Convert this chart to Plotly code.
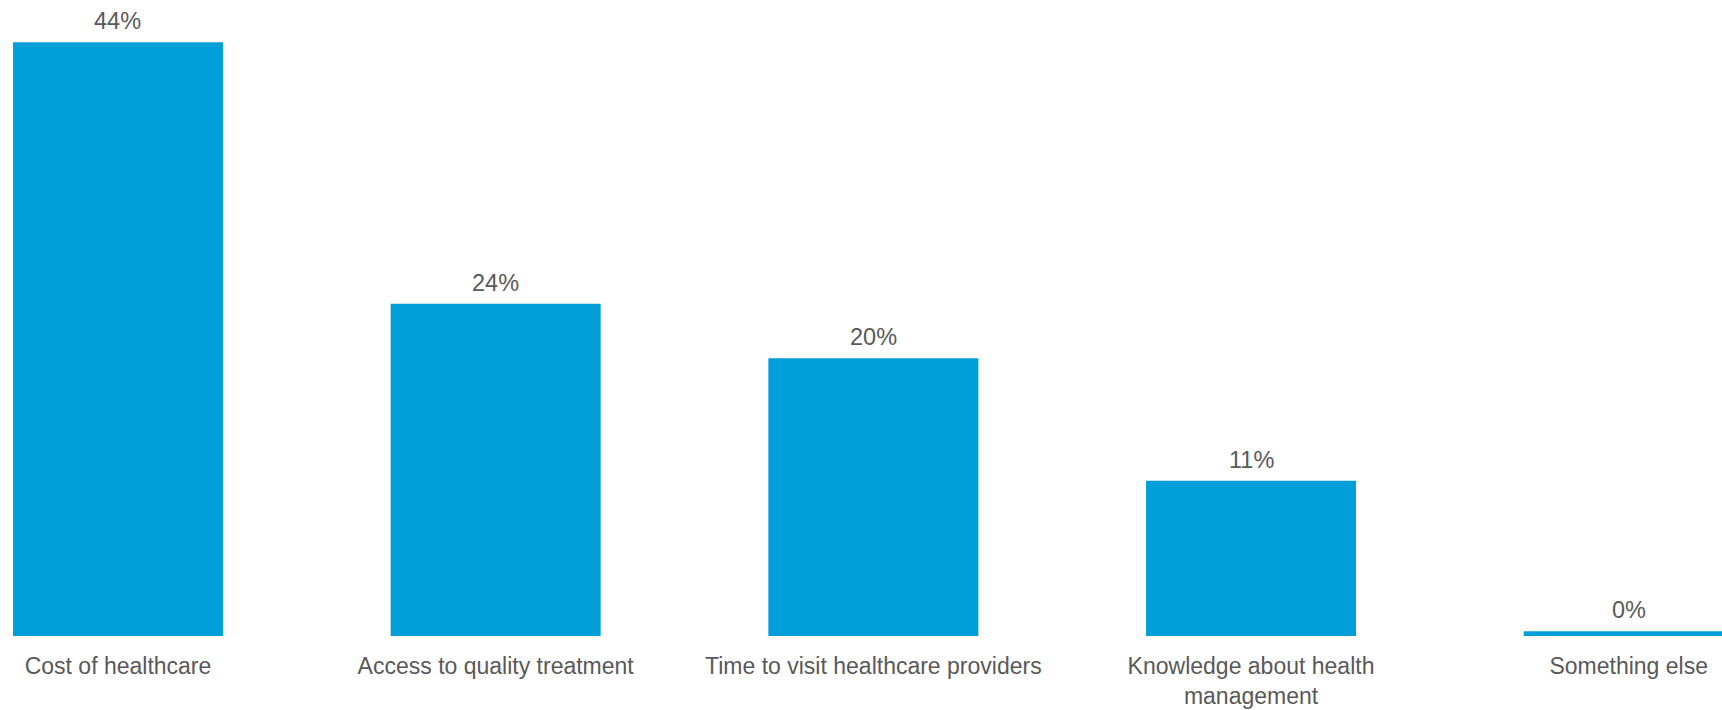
import plotly.graph_objects as go

# Survey shares (%) by barrier
categories = [
    "Cost of healthcare",
    "Access to quality treatment",
    "Time to visit healthcare providers",
    "Knowledge about health<br>management",
    "Something else",
]
shares = [43.6, 24.4, 20.4, 11.4, 0.35]

BAR_COLOR = "#009FDA"
TEXT_COLOR = "#595959"
FONT = "Liberation Sans, Arial, Helvetica, sans-serif"

fig = go.Figure(
    go.Bar(
        x=categories,
        y=shares,
        width=0.556,
        marker=dict(color=BAR_COLOR, line=dict(width=0)),
        hoverinfo="skip",
    )
)

# Value labels above each bar
for cat, val in zip(categories, shares):
    fig.add_annotation(
        x=cat,
        y=val,
        text=f"{val:.0f}%",
        showarrow=False,
        yanchor="middle",
        yshift=21,
        font=dict(family=FONT, size=23.5, color=TEXT_COLOR),
    )

fig.update_layout(
    width=1722,
    height=710,
    margin=dict(l=0, r=0, t=0, b=74, autoexpand=False),
    paper_bgcolor="white",
    plot_bgcolor="white",
    showlegend=False,
    font=dict(family=FONT, size=23.5, color=TEXT_COLOR),
)
fig.update_xaxes(
    range=[-0.3124, 4.247],
    automargin=False,
    showgrid=False,
    showline=False,
    zeroline=False,
    ticks="",
    ticklabelstandoff=14,
    tickfont=dict(family=FONT, size=23, color=TEXT_COLOR),
    fixedrange=True,
)
fig.update_yaxes(
    range=[0, 46.7],
    visible=False,
    automargin=False,
    showgrid=False,
    zeroline=False,
    fixedrange=True,
)

fig.write_html("out.html", config={"displayModeBar": False})
